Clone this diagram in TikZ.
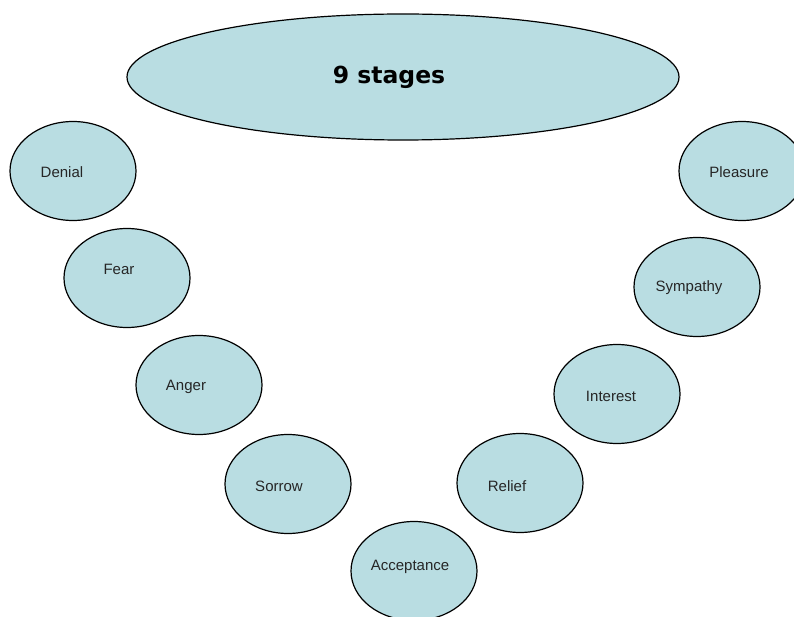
\documentclass[tikz,border=0pt]{standalone}
\usepackage{fontspec}
\setmainfont{Liberation Sans}
\newfontfamily\titlefont{DejaVu Sans}
\usetikzlibrary{shapes.geometric}
\definecolor{stagefill}{RGB}{185,221,226}
\begin{document}
\begin{tikzpicture}[x=1pt,y=-1pt,
  stagebox/.style={ellipse, draw=black, line width=1.2pt, fill=stagefill,
    minimum width=126pt, minimum height=99pt, inner sep=0pt},
  stagetext/.style={inner sep=0pt, font=\fontsize{15}{17}\selectfont, text=black!85},
]
\useasboundingbox (0,0) rectangle (794,617);
\clip (0,0) rectangle (794,617);
% title
\node[ellipse, draw=black, line width=1.2pt, fill=stagefill,
  minimum width=552pt, minimum height=126pt, inner sep=0pt] (top) at (403,77) {};
\node[inner sep=0pt, font=\titlefont\bfseries\fontsize{23.5}{26}\selectfont] (toptext) at (389,77) {9 stages};
% stages
\node[stagebox] (denial) at (73,171) {};
\node[stagetext] (denialt) at (62,172) {Denial};
\node[stagebox] (fear) at (127,278) {};
\node[stagetext] (feart) at (119,269) {Fear};
\node[stagebox] (anger) at (199,385) {};
\node[stagetext] (angert) at (186,387) {Anger};
\node[stagebox] (sorrow) at (288,484) {};
\node[stagetext] (sorrowt) at (279,486) {Sorrow};
\node[stagebox] (accept) at (414,571) {};
\node[stagetext] (acceptt) at (410,567) {Acceptance};
\node[stagebox] (relief) at (520,483) {};
\node[stagetext] (relieft) at (507,486) {Relief};
\node[stagebox] (interest) at (617,394) {};
\node[stagetext] (interestt) at (611,396) {Interest};
\node[stagebox] (sympathy) at (697,287) {};
\node[stagetext] (sympathyt) at (689,288) {Sympathy};
\node[stagebox] (pleasure) at (742,171) {};
\node[stagetext] (pleasuret) at (739,172) {Pleasure};
\end{tikzpicture}
\end{document}
